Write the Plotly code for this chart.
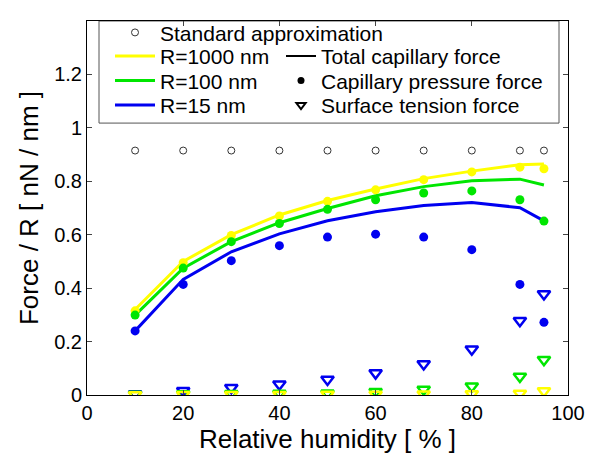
import plotly.graph_objects as go

rh = [10, 20, 30, 40, 50, 60, 70, 80, 90, 95]
standard = [0.915] * 10

total_1000 = [0.32, 0.50, 0.60, 0.674, 0.728, 0.771, 0.81, 0.838, 0.862, 0.865]
total_100 = [0.299, 0.475, 0.574, 0.645, 0.698, 0.746, 0.78, 0.802, 0.808, 0.786]
total_15 = [0.24, 0.433, 0.536, 0.603, 0.652, 0.686, 0.709, 0.721, 0.701, 0.652]

press_1000 = [0.315, 0.495, 0.597, 0.67, 0.725, 0.768, 0.806, 0.835, 0.853, 0.847]
press_100 = [0.299, 0.475, 0.574, 0.642, 0.695, 0.731, 0.756, 0.764, 0.731, 0.651]
press_15 = [0.24, 0.414, 0.503, 0.559, 0.591, 0.602, 0.591, 0.544, 0.414, 0.272]

tens_1000 = [0.0, 0.001, 0.001, 0.001, 0.002, 0.002, 0.003, 0.004, 0.006, 0.015]
tens_100 = [0.002, 0.004, 0.005, 0.006, 0.007, 0.012, 0.021, 0.033, 0.069, 0.132]
tens_15 = [0.004, 0.016, 0.027, 0.04, 0.058, 0.082, 0.116, 0.171, 0.278, 0.378]

x_ticks = [0, 20, 40, 60, 80, 100]
y_ticks = [0, 0.2, 0.4, 0.6, 0.8, 1, 1.2]

YEL = "#ffff00"
GRN = "#00e600"
BLU = "#0000f0"
FONT = "Liberation Sans, Arial, sans-serif"

# plot-area geometry (pixels) used to place legend blocks
PL, PR, PT, PB = 87, 568, 14, 395


def px_x(v):
    return (v - PL) / (PR - PL)


def px_y(v):
    return (PB - v) / (PB - PT)


fig = go.Figure()

fig.add_trace(go.Scatter(x=rh, y=standard, mode="markers", showlegend=False,
                         marker=dict(symbol="circle-open", size=7, color="#333333", line=dict(width=1))))

for tens, col in [(tens_15, BLU), (tens_100, GRN), (tens_1000, YEL)]:
    fig.add_trace(go.Scatter(x=rh, y=tens, mode="markers", showlegend=False,
                             marker=dict(symbol="triangle-down-open", size=11, color=col, line=dict(width=2.5))))

for tot, col, name, lg in [(total_15, BLU, "R=15 nm", "legend4"),
                           (total_100, GRN, "R=100 nm", "legend3"),
                           (total_1000, YEL, "R=1000 nm", "legend2")]:
    fig.add_trace(go.Scatter(x=rh, y=tot, mode="lines", name=name, legend=lg,
                             line=dict(color=col, width=3)))

for press, col in [(press_1000, YEL), (press_100, GRN), (press_15, BLU)]:
    fig.add_trace(go.Scatter(x=rh, y=press, mode="markers", showlegend=False,
                             marker=dict(symbol="circle", size=9, color=col)))

# legend-only traces
fig.add_trace(go.Scatter(x=[None], y=[None], mode="markers", name="Standard approximation",
                         legend="legend",
                         marker=dict(symbol="circle-open", size=7, color="#333333", line=dict(width=1))))
fig.add_trace(go.Scatter(x=[None], y=[None], mode="lines", name="Total capillary force",
                         legend="legend5", line=dict(color="black", width=2)))
fig.add_trace(go.Scatter(x=[None], y=[None], mode="markers", name="Capillary pressure force",
                         legend="legend6", marker=dict(symbol="circle", size=7, color="black")))
fig.add_trace(go.Scatter(x=[None], y=[None], mode="markers", name="Surface tension force",
                         legend="legend7",
                         marker=dict(symbol="triangle-down-open", size=8, color="black", line=dict(width=2))))

leg_common = dict(bgcolor="rgba(0,0,0,0)", borderwidth=0, font=dict(family=FONT, size=21, color="black"),
                  xanchor="left", yanchor="middle")

LX = px_x(110)
RX = px_x(281)
rows = [px_y(26), px_y(50), px_y(75), px_y(100)]

fig.update_layout(
    width=589, height=456,
    margin=dict(l=PL, r=589 - PR, t=PT, b=456 - PB),
    paper_bgcolor="white", plot_bgcolor="white",
    font=dict(family=FONT, size=20, color="black"),
    legend=dict(x=LX, y=rows[0], itemwidth=40, **leg_common),
    legend2=dict(x=LX, y=rows[1], itemwidth=40, **leg_common),
    legend3=dict(x=LX, y=rows[2], itemwidth=40, **leg_common),
    legend4=dict(x=LX, y=rows[3], itemwidth=40, **leg_common),
    legend5=dict(x=RX, y=rows[1], **leg_common),
    legend6=dict(x=RX, y=rows[2], **leg_common),
    legend7=dict(x=RX, y=rows[3], **leg_common),
    shapes=[dict(type="rect", xref="paper", yref="paper", x0=px_x(99), x1=px_x(559), y0=px_y(118), y1=1.0,
                 line=dict(color="#555555", width=1), fillcolor="white", layer="below")],
    xaxis=dict(range=[0, 100], tickvals=x_ticks, ticks="inside", ticklen=5, mirror="ticks",
               showline=True, linecolor="black", linewidth=1, showgrid=False, zeroline=False,
               tickfont=dict(size=20), automargin=False,
               title=dict(text="Relative humidity [ % ]", font=dict(size=26), standoff=4)),
    yaxis=dict(range=[0, 1.4], tickvals=y_ticks, ticks="inside", ticklen=5, mirror="ticks",
               showline=True, linecolor="black", linewidth=1, showgrid=False, zeroline=False,
               tickfont=dict(size=20), automargin=False,
               title=dict(text="Force / R [ nN / nm ]", font=dict(size=26), standoff=8)),
)

fig.write_html("out.html", config={"displayModeBar": False},
               post_script="document.body.style.margin='0';document.body.style.overflow='hidden';")
